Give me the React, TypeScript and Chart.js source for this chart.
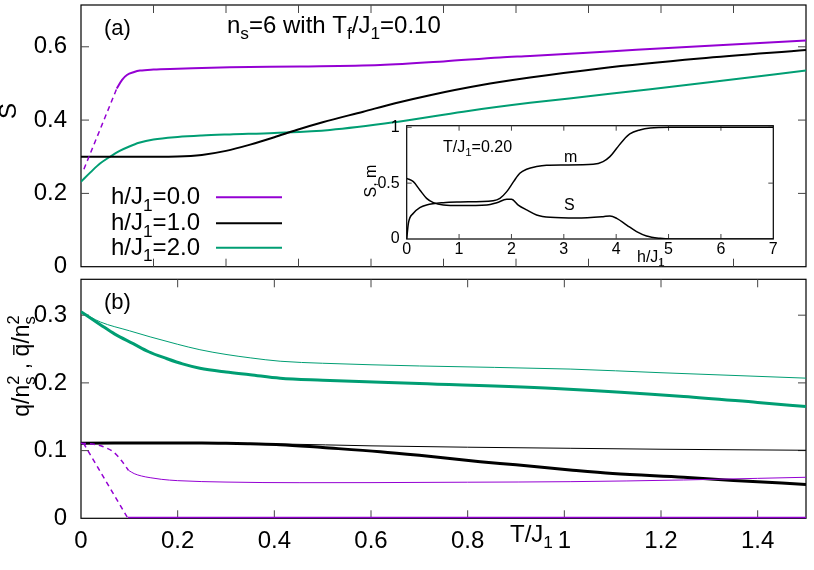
import React, { useEffect, useRef } from 'react';
import { Chart, registerables } from 'chart.js';
Chart.register(...registerables);

const FONT = '"Liberation Sans", Arial, Helvetica, sans-serif';
const PURPLE = '#9400d3';
const GREEN = '#009e73';
const BLACK = '#000000';

// ---------- Panel (a): S vs T/J1 ----------
const A_H0_DASH_T = [0.006, 0.074];
const A_H0_DASH_S = [0.266, 0.486];
const A_H0_T = [0.074, 0.085, 0.095, 0.11, 0.122, 0.15, 0.2, 0.308, 0.453, 0.619, 0.75, 0.867, 0.929, 1.1, 1.3, 1.5];
const A_H0_S = [0.486, 0.51, 0.523, 0.531, 0.535, 0.538, 0.54, 0.544, 0.546, 0.55, 0.56, 0.571, 0.575, 0.588, 0.603, 0.617];
const A_H1_T = [0, 0.1, 0.2, 0.25, 0.3, 0.35, 0.4, 0.446, 0.5, 0.584, 0.65, 0.722, 0.826, 0.929, 1.074, 1.28, 1.5];
const A_H1_S = [0.3, 0.3, 0.301, 0.305, 0.316, 0.333, 0.353, 0.373, 0.394, 0.423, 0.446, 0.468, 0.495, 0.516, 0.541, 0.568, 0.591];
const A_H2_T = [0, 0.02, 0.04, 0.06, 0.08, 0.1, 0.12, 0.15, 0.2, 0.25, 0.308, 0.4, 0.515, 0.653, 0.791, 0.929, 1.05, 1.178, 1.3, 1.5];
const A_H2_S = [0.232, 0.258, 0.282, 0.3, 0.316, 0.328, 0.338, 0.347, 0.354, 0.358, 0.361, 0.365, 0.373, 0.395, 0.423, 0.447, 0.465, 0.484, 0.503, 0.535];
const A_Y_TICKS = [0, 0.2, 0.4, 0.6];
const A_X_TICKS = [0.15, 0.3, 0.45, 0.6, 0.75, 0.9, 1.05, 1.2, 1.35];
const LEGEND = ['0.0', '1.0', '2.0'];

// ---------- Panel (b): q/ns^2 (thick), qbar/ns^2 (thin) ----------
const B_H0_THICK_DASH_T = [0.005, 0.097];
const B_H0_THICK_DASH_V = [0.111, 0];
const B_H0_THICK_T = [0.097, 1.5];
const B_H0_THICK_V = [0, 0];
const B_H0_THIN_DASH_T = [0, 0.03, 0.045, 0.067, 0.084, 0.098];
const B_H0_THIN_DASH_V = [0.111, 0.109, 0.106, 0.098, 0.085, 0.071];
const B_H0_THIN_T = [0.098, 0.11, 0.125, 0.143, 0.166, 0.2, 0.3, 0.453, 0.6, 0.8, 1.012, 1.247, 1.4, 1.5];
const B_H0_THIN_V = [0.071, 0.066, 0.0625, 0.06, 0.0576, 0.0556, 0.0535, 0.0526, 0.0527, 0.0533, 0.0541, 0.0566, 0.059, 0.0606];
const B_H1_THICK_T = [0, 0.2, 0.25, 0.3, 0.35, 0.412, 0.5, 0.619, 0.7, 0.826, 0.9, 1.012, 1.1, 1.247, 1.35, 1.5];
const B_H1_THICK_V = [0.111, 0.1112, 0.1112, 0.1108, 0.11, 0.1088, 0.1045, 0.0984, 0.093, 0.0836, 0.079, 0.0713, 0.066, 0.0606, 0.056, 0.05];
const B_H1_THIN_T = [0, 0.3, 0.412, 0.6, 0.8, 1.012, 1.2, 1.5];
const B_H1_THIN_V = [0.111, 0.1105, 0.1098, 0.107, 0.105, 0.1034, 0.102, 0.1005];
const B_H2_THICK_T = [0, 0.04, 0.07, 0.108, 0.14, 0.177, 0.21, 0.246, 0.3, 0.35, 0.412, 0.5, 0.7, 1.0, 1.247, 1.4, 1.5];
const B_H2_THICK_V = [0.305, 0.286, 0.272, 0.258, 0.246, 0.236, 0.228, 0.2216, 0.216, 0.212, 0.2068, 0.204, 0.199, 0.191, 0.18, 0.171, 0.165];
const B_H2_THIN_T = [0, 0.04, 0.1, 0.143, 0.2, 0.246, 0.3, 0.35, 0.412, 0.5, 0.7, 1.012, 1.2, 1.5];
const B_H2_THIN_V = [0.305, 0.29, 0.277, 0.268, 0.257, 0.249, 0.242, 0.237, 0.232, 0.229, 0.225, 0.2204, 0.215, 0.207];
const B_Y_TICKS = [0, 0.1, 0.2, 0.3];
const B_X_TICKS = [0, 0.2, 0.4, 0.6, 0.8, 1, 1.2, 1.4];

// ---------- Inset: S, m vs h/J1 at T/J1 = 0.20 ----------
const IN_M_H = [0, 0.032, 0.127, 0.25, 0.38, 0.7, 1.02, 1.65, 1.78, 1.91, 2.04, 2.16, 2.29, 2.48, 2.67, 3.0, 3.56, 3.75, 3.88, 4.01, 4.14, 4.26, 4.45, 4.65, 5.03, 7];
const IN_M_V = [0, 0.14, 0.23, 0.28, 0.304, 0.325, 0.331, 0.343, 0.364, 0.424, 0.513, 0.588, 0.624, 0.648, 0.66, 0.663, 0.669, 0.693, 0.737, 0.812, 0.887, 0.94, 0.976, 0.994, 1.0, 1.0];
const IN_S_H = [0, 0.127, 0.25, 0.38, 0.51, 0.7, 1.02, 1.53, 1.72, 1.91, 2.0, 2.13, 2.29, 2.48, 2.74, 3.25, 3.75, 3.88, 4.01, 4.2, 4.39, 4.58, 4.84, 5.03, 7];
const IN_S_V = [0.543, 0.513, 0.439, 0.364, 0.325, 0.304, 0.299, 0.304, 0.325, 0.355, 0.355, 0.304, 0.26, 0.215, 0.194, 0.188, 0.2, 0.206, 0.185, 0.125, 0.066, 0.027, 0.006, 0, 0];
const IN_X_TICKS = [0, 1, 2, 3, 4, 5, 6, 7];
const IN_Y_TICKS = [0, 0.5, 1];

const pts = (xs: number[], ys: number[]) => xs.map((x, i) => ({ x, y: ys[i] }));
const fmt = (v: number) => String(+Number(v).toFixed(3));

type Seg = { t: string; sub?: string; sup?: string; bar?: boolean };
const SUBR = 0.72;

function richWidth(ctx: CanvasRenderingContext2D, segs: Seg[], size: number) {
  let w = 0;
  for (const s of segs) {
    ctx.font = `${size}px ${FONT}`;
    w += ctx.measureText(s.t).width;
    ctx.font = `${size * SUBR}px ${FONT}`;
    w += Math.max(s.sub ? ctx.measureText(s.sub).width : 0, s.sup ? ctx.measureText(s.sup).width : 0);
  }
  return w;
}

function drawRich(ctx: CanvasRenderingContext2D, segs: Seg[], x: number, y: number, size: number, align: 'left' | 'right' | 'center', color = '#000') {
  const total = richWidth(ctx, segs, size);
  let cx = align === 'left' ? x : align === 'right' ? x - total : x - total / 2;
  ctx.fillStyle = color;
  ctx.strokeStyle = color;
  ctx.textAlign = 'left';
  ctx.textBaseline = 'alphabetic';
  for (const s of segs) {
    ctx.font = `${size}px ${FONT}`;
    const w = ctx.measureText(s.t).width;
    ctx.fillText(s.t, cx, y);
    if (s.bar) {
      ctx.lineWidth = Math.max(1, size * 0.06);
      ctx.beginPath();
      ctx.moveTo(cx + size * 0.06, y - size * 0.66);
      ctx.lineTo(cx + w - size * 0.06, y - size * 0.66);
      ctx.stroke();
    }
    cx += w;
    ctx.font = `${size * SUBR}px ${FONT}`;
    let ws = 0;
    if (s.sub) {
      ctx.fillText(s.sub, cx, y + size * 0.26);
      ws = Math.max(ws, ctx.measureText(s.sub).width);
    }
    if (s.sup) {
      ctx.fillText(s.sup, cx, y - size * 0.42);
      ws = Math.max(ws, ctx.measureText(s.sup).width);
    }
    cx += ws;
  }
}

function framePlugin(id: string, xTicks: number[], yTicks: number[], len: number, width: number) {
  return {
    id,
    beforeDatasetsDraw(chart: any) {
      const { ctx, chartArea: a, scales } = chart;
      ctx.save();
      ctx.strokeStyle = '#000';
      ctx.lineWidth = width;
      ctx.strokeRect(a.left, a.top, a.right - a.left, a.bottom - a.top);
      ctx.lineWidth = 1;
      ctx.strokeStyle = '#444';
      ctx.beginPath();
      for (const v of xTicks) {
        const px = scales.x.getPixelForValue(v);
        if (px <= a.left + 1 || px >= a.right - 1) continue;
        ctx.moveTo(px, a.bottom);
        ctx.lineTo(px, a.bottom - len);
        ctx.moveTo(px, a.top);
        ctx.lineTo(px, a.top + len);
      }
      for (const v of yTicks) {
        const py = scales.y.getPixelForValue(v);
        if (py <= a.top + 1 || py >= a.bottom - 1) continue;
        ctx.moveTo(a.left, py);
        ctx.lineTo(a.left + len, py);
        ctx.moveTo(a.right, py);
        ctx.lineTo(a.right - len, py);
      }
      ctx.stroke();
      ctx.restore();
    },
  };
}

function textPlugin(id: string, draw: (ctx: CanvasRenderingContext2D, chart: any) => void) {
  return {
    id,
    afterDraw(chart: any) {
      const ctx = chart.ctx as CanvasRenderingContext2D;
      ctx.save();
      draw(ctx, chart);
      ctx.restore();
    },
  };
}

const W = 814;
const H = 570;

function line(data: any[], color: string, width: number, dash: number[] = [], smooth = true) {
  return {
    data,
    borderColor: color,
    borderWidth: width,
    borderDash: dash,
    pointRadius: 0,
    fill: false,
    tension: 0,
    cubicInterpolationMode: smooth ? 'monotone' : 'default',
  };
}

function yScale(min: number, max: number, ticks: number[], width: number, size: number, pad: number, display = true) {
  return {
    type: 'linear',
    min,
    max,
    display,
    afterBuildTicks: (s: any) => { s.ticks = ticks.map((v) => ({ value: v })); },
    afterFit: (s: any) => { s.width = width; s.paddingTop = 0; s.paddingBottom = 0; s.paddingLeft = 0; s.paddingRight = 0; },
    grid: { display: false, drawTicks: false },
    border: { display: false },
    ticks: { color: '#000', font: { family: FONT, size }, padding: pad, callback: (v: any) => fmt(v) },
  };
}

function xScale(min: number, max: number, ticks: number[], height: number, size: number, pad: number, display = true) {
  return {
    type: 'linear',
    min,
    max,
    display,
    afterBuildTicks: (s: any) => { s.ticks = ticks.map((v) => ({ value: v })); },
    afterFit: (s: any) => { s.height = height; s.paddingLeft = 0; s.paddingRight = 0; s.paddingTop = 0; s.paddingBottom = 0; },
    grid: { display: false, drawTicks: false },
    border: { display: false },
    ticks: { color: '#000', font: { family: FONT, size }, padding: pad, maxRotation: 0, autoSkip: false, callback: (v: any) => fmt(v) },
  };
}

const baseOptions = {
  responsive: false,
  animation: false,
  devicePixelRatio: 1,
  plugins: { legend: { display: false }, tooltip: { enabled: false } },
  events: [],
};

export default function App() {
  const refA = useRef<HTMLCanvasElement>(null);
  const refB = useRef<HTMLCanvasElement>(null);
  const refI = useRef<HTMLCanvasElement>(null);

  useEffect(() => {
    const charts: Chart[] = [];
    const FS = 24;

    // Panel (a)
    charts.push(new Chart(refA.current!, {
      type: 'line',
      data: {
        datasets: [
          line(pts(A_H0_DASH_T, A_H0_DASH_S), PURPLE, 1.5, [5, 4], false),
          line(pts(A_H0_T, A_H0_S), PURPLE, 2),
          line(pts(A_H1_T, A_H1_S), BLACK, 2),
          line(pts(A_H2_T, A_H2_S), GREEN, 2),
        ] as any,
      },
      options: {
        ...baseOptions,
        layout: { padding: { left: 0, right: 8, top: 5, bottom: H - 266.7 } },
        scales: {
          x: { type: 'linear', min: 0, max: 1.5, display: false },
          y: yScale(0, 0.714, A_Y_TICKS, 81, FS, 14),
        },
      } as any,
      plugins: [
        framePlugin('frameA', A_X_TICKS, A_Y_TICKS, 8, 1.2),
        textPlugin('textA', (ctx) => {
          drawRich(ctx, [{ t: '(a)' }], 104, 35, 22, 'left');
          drawRich(ctx, [{ t: 'n', sub: 's' }, { t: '=6 with T', sub: 'f' }, { t: '/J', sub: '1' }, { t: '=0.10' }], 227, 33, FS, 'left');
          const colors = [PURPLE, BLACK, GREEN];
          const ys = [197.3, 223.3, 247.7];
          LEGEND.forEach((lab, i) => {
            drawRich(ctx, [{ t: 'h/J', sub: '1' }, { t: '=' + lab }], 200, ys[i] + 7, FS, 'right');
            ctx.strokeStyle = colors[i];
            ctx.lineWidth = 2;
            ctx.setLineDash([]);
            ctx.beginPath();
            ctx.moveTo(216, ys[i]);
            ctx.lineTo(282, ys[i]);
            ctx.stroke();
          });
          ctx.translate(16, 111);
          ctx.rotate(-Math.PI / 2);
          drawRich(ctx, [{ t: 'S' }], 0, 0, FS, 'center');
        }),
      ],
    }));

    // Panel (b)
    charts.push(new Chart(refB.current!, {
      type: 'line',
      data: {
        datasets: [
          line(pts(B_H0_THICK_DASH_T, B_H0_THICK_DASH_V), PURPLE, 1.5, [5, 4], false),
          line(pts(B_H0_THICK_T, B_H0_THICK_V), PURPLE, 3, [], false),
          line(pts(B_H0_THIN_DASH_T, B_H0_THIN_DASH_V), PURPLE, 1.5, [5, 4]),
          line(pts(B_H0_THIN_T, B_H0_THIN_V), PURPLE, 1),
          line(pts(B_H1_THIN_T, B_H1_THIN_V), BLACK, 1),
          line(pts(B_H1_THICK_T, B_H1_THICK_V), BLACK, 3),
          line(pts(B_H2_THIN_T, B_H2_THIN_V), GREEN, 1),
          line(pts(B_H2_THICK_T, B_H2_THICK_V), GREEN, 3),
        ] as any,
      },
      options: {
        ...baseOptions,
        layout: { padding: { left: 0, right: 8, top: 279.3, bottom: H - 518.3 - 40 } },
        scales: {
          x: xScale(0, 1.5, B_X_TICKS, 40, FS, 9),
          y: yScale(0, 0.353, B_Y_TICKS, 81, FS, 14),
        },
      } as any,
      plugins: [
        framePlugin('frameB', B_X_TICKS, B_Y_TICKS, 8, 1.2),
        textPlugin('textB', (ctx) => {
          drawRich(ctx, [{ t: '(b)' }], 104, 309.3, 22, 'left');
          drawRich(ctx, [{ t: 'T/J', sub: '1' }], 510, 541.7, FS, 'left');
          ctx.translate(29, 366);
          ctx.rotate(-Math.PI / 2);
          drawRich(ctx, [{ t: 'q/n', sub: 's', sup: '2' }, { t: ' , ' }, { t: 'q', bar: true }, { t: '/n', sub: 's', sup: '2' }], 0, 0, 23, 'center');
        }),
      ],
    }));

    // Inset
    const IFS = 16;
    charts.push(new Chart(refI.current!, {
      type: 'line',
      data: {
        datasets: [
          line(pts(IN_M_H, IN_M_V), BLACK, 1.5),
          line(pts(IN_S_H, IN_S_V), BLACK, 1.5),
        ] as any,
      },
      options: {
        ...baseOptions,
        layout: { padding: { left: 406.7 - 30, right: W - 773.3, top: 125.7, bottom: H - 239 - 20 } },
        scales: {
          x: xScale(0, 7, IN_X_TICKS, 20, IFS, 1),
          y: yScale(0, 1.014, IN_Y_TICKS, 30, IFS, 7),
        },
      } as any,
      plugins: [
        framePlugin('frameI', IN_X_TICKS, IN_Y_TICKS, 5, 1.2),
        textPlugin('textI', (ctx) => {
          drawRich(ctx, [{ t: 'T/J', sub: '1' }, { t: '=0.20' }], 443, 151.7, IFS, 'left');
          drawRich(ctx, [{ t: 'm' }], 564, 161.7, IFS, 'left');
          drawRich(ctx, [{ t: 'S' }], 564, 210, IFS, 'left');
          drawRich(ctx, [{ t: 'h/J', sub: '1' }], 637, 261.7, IFS, 'left');
          ctx.translate(376, 181);
          ctx.rotate(-Math.PI / 2);
          drawRich(ctx, [{ t: 'S, m' }], 0, 0, IFS, 'center');
        }),
      ],
    }));

    return () => charts.forEach((c) => c.destroy());
  }, []);

  const cs: React.CSSProperties = { position: 'absolute', left: 0, top: 0, width: W, height: H };
  return (
    <div style={{ position: 'absolute', left: 0, top: 0, width: W, height: H, background: '#fff' }}>
      <canvas ref={refA} width={W} height={H} style={cs} />
      <canvas ref={refB} width={W} height={H} style={cs} />
      <canvas ref={refI} width={W} height={H} style={cs} />
    </div>
  );
}
